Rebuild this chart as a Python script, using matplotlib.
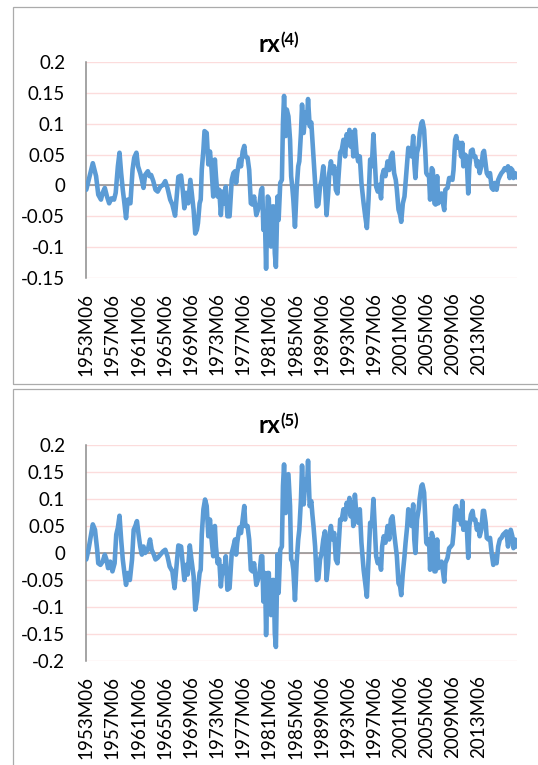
import matplotlib
matplotlib.use("Agg")
import matplotlib.pyplot as plt
from matplotlib.patches import Rectangle

plt.rcParams['font.family'] = ['Lato', 'DejaVu Sans']

# Month index 0 = 1953M06
months_start4 = [0, 12, 18, 22, 27, 30, 34, 38, 42, 46, 51, 54, 58, 61, 64, 67, 70, 73, 76, 81,
                 85, 88, 92, 95, 99, 102, 105, 108, 113, 116, 119, 123, 127, 131, 136, 141, 145, 149, 154, 158,
                 163, 166, 169, 174, 177, 180, 183, 187, 191, 193, 197, 200, 203, 205, 208, 210, 212, 215, 217, 221,
                 224, 227, 230, 233, 236, 238, 241, 244, 247, 250, 253, 256, 259, 263]
months_start5 = [0, 4, 12, 16, 20, 22, 26, 30, 34, 37, 40, 44, 48, 52, 55, 58, 61, 64, 67, 70,
                 73, 76, 80, 84, 87, 90, 93, 96, 99, 102, 105, 108, 113, 117, 120, 124, 127, 131, 136, 141,
                 145, 149, 153, 158, 162, 166, 169, 174, 177, 180, 183, 186, 190, 193, 197, 200, 203, 205, 208, 210,
                 212, 215, 218, 221, 224, 227, 230, 233, 236, 238, 241, 244, 247, 250, 253, 256, 259, 263]
months_rest = [267, 270, 273, 275, 277, 281, 284, 287, 290, 292, 296, 299, 302, 305, 308, 312, 315, 318, 321, 323,
               325, 328, 330, 333, 335, 337, 339, 342, 344, 346, 348, 351, 353, 356, 359, 361, 363, 366, 368, 371,
               374, 376, 378, 380, 383, 386, 389, 391, 394, 396, 399, 402, 405, 407, 410, 413, 415, 417, 420, 423,
               426, 429, 432, 435, 438, 441, 444, 446, 449, 452, 455, 458, 461, 463, 466, 469, 472, 475, 478, 481,
               483, 485, 488, 490, 493, 496, 499, 502, 505, 509, 512, 515, 518, 521, 524, 527,
               532, 535, 538, 541, 543, 546, 549, 553, 556, 559, 562, 565, 568, 570, 573, 576, 578, 581, 584, 586,
               589, 591, 594, 597, 600, 602, 604, 607, 610, 612, 615, 617, 620, 622, 624, 626, 629, 631, 634, 636,
               639, 641, 644, 646, 649, 652, 655, 657, 659, 663, 666, 669, 672, 674, 677, 679, 682, 685, 688, 690,
               692, 695, 698, 701, 703, 706, 709, 711, 714, 717, 719, 722, 725, 728, 730, 733, 735, 738, 741, 744,
               747, 750, 753, 756, 759, 762, 765, 768, 771, 774, 777, 779, 782, 784, 787, 790]

rx4 = [-0.007, 0.036, 0.015, -0.015, -0.023, -0.012, -0.004, -0.018, -0.029, -0.021,
       -0.023, -0.012, 0.031, 0.053, 0.020, -0.007, -0.029, -0.053, -0.023, -0.029,
       0.026, 0.045, 0.053, 0.031, 0.020, 0.009, -0.004, 0.017, 0.023, 0.015,
       0.017, 0.007, -0.007, -0.010, -0.002, 0.001, 0.007, -0.004, -0.023, -0.031,
       -0.049, -0.018, 0.014, 0.016, -0.007, -0.037, -0.012, -0.029, 0.009, -0.007,
       -0.040, -0.078, -0.072, -0.061, -0.029, -0.023, 0.026, 0.058, 0.088, 0.085,
       0.034, 0.055, 0.026, -0.018, 0.042, 0.015, -0.018, -0.007, -0.048, -0.010,
       -0.029, -0.002, -0.050, -0.050,
       0.009, 0.020, 0.023, 0.004, 0.020, 0.042, 0.031, 0.055, 0.064, 0.047,
       0.045, 0.025, -0.029, -0.031, -0.018, -0.048, -0.040, -0.029, -0.007, -0.004,
       -0.072, -0.061, -0.135, -0.018, -0.021, -0.094, -0.099, -0.034, -0.034, -0.110,
       -0.132, -0.018, -0.056, 0.004, 0.009, 0.102, 0.145, 0.080, 0.123, 0.112,
       0.074, 0.015, -0.002, -0.023, -0.067, -0.007, 0.031, 0.039, 0.085, 0.131,
       0.085, 0.118, 0.102, 0.140, 0.096, 0.102, 0.074, 0.047, 0.004, -0.034,
       -0.031, -0.002, 0.009, 0.031, 0.004, -0.048, -0.013, 0.020, 0.039, 0.020,
       0.031, -0.007, -0.013, 0.015, 0.053, 0.058, 0.074, 0.047, 0.083, 0.069,
       0.090, 0.063, 0.085, 0.047, 0.090, 0.053, 0.039, 0.047, 0.004, -0.029,
       -0.050, -0.069, -0.023, 0.042, 0.031, 0.083,
       -0.002, -0.010, 0.001, -0.021, 0.015, 0.025, 0.015, 0.039, 0.025, 0.047,
       0.053, 0.020, 0.009, -0.007, -0.039, -0.048, -0.059, -0.029, -0.018, 0.004,
       0.036, 0.061, 0.058, 0.047, 0.080, 0.036, 0.012, 0.053, 0.064, 0.085,
       0.101, 0.104, 0.090, 0.058, 0.020, 0.017, 0.015, -0.023, 0.028, 0.025,
       -0.029, -0.031, 0.015, -0.029, -0.018, -0.013, -0.031, -0.040, -0.007, -0.004,
       0.012, 0.012, 0.009, 0.025, 0.074, 0.080, 0.061, 0.069, 0.047, 0.069,
       0.031, 0.050, 0.047, -0.013, 0.031, 0.056, 0.058, 0.047, 0.047, 0.031,
       0.039, 0.020, 0.031, 0.053, 0.056, 0.034, 0.020, 0.015, 0.020, -0.004,
       -0.007, 0.004, -0.007, 0.009, 0.015, 0.020, 0.023, 0.028, 0.025, 0.031,
       0.012, 0.028, 0.025, 0.012, 0.020, 0.013]

rx5 = [-0.012, 0.006, 0.053, 0.043, 0.006, -0.019, -0.022, -0.016, -0.003, -0.012,
       -0.028, -0.016, -0.034, -0.019, 0.034, 0.047, 0.069, 0.025, -0.012, -0.037,
       -0.059, -0.037, -0.050, -0.012, 0.043, 0.050, 0.059, 0.034, 0.012, -0.003,
       0.012, 0.0, 0.006, 0.025, 0.006, -0.003, -0.012, -0.009, -0.003, 0.003,
       0.006, -0.006, -0.025, -0.034, -0.065, -0.019, 0.014, 0.012, -0.019, -0.050,
       -0.022, -0.040, 0.014, -0.012, -0.043, -0.105, -0.087, -0.065, -0.037, -0.031,
       0.034, 0.081, 0.099, 0.087, 0.031, 0.062, 0.025, -0.006, 0.050, 0.012,
       -0.019, -0.012, -0.062, -0.025, -0.037, -0.006, -0.068, -0.065,
       0.0, 0.012, 0.025, -0.003, 0.019, 0.047, 0.037, 0.062, 0.087, 0.050,
       0.050, 0.025, -0.031, -0.034, -0.019, -0.059, -0.050, -0.037, -0.006, -0.006,
       -0.090, -0.037, -0.152, -0.037, -0.037, -0.112, -0.115, -0.050, -0.050, -0.149,
       -0.174, -0.003, -0.074, 0.006, 0.012, 0.124, 0.164, 0.074, 0.143, 0.146,
       0.087, -0.012, -0.016, -0.031, -0.087, -0.019, 0.025, 0.043, 0.099, 0.162,
       0.090, 0.136, 0.118, 0.171, 0.087, 0.096, 0.071, 0.050, 0.012, -0.050,
       -0.047, -0.012, 0.0, 0.025, 0.040, -0.050, -0.019, 0.031, 0.050, 0.025,
       0.037, -0.012, -0.019, 0.012, 0.062, 0.062, 0.081, 0.062, 0.093, 0.081,
       0.102, 0.068, 0.093, 0.050, 0.108, 0.068, 0.056, 0.081, 0.019, -0.031,
       -0.056, -0.081, -0.012, 0.056, 0.050, 0.100,
       -0.006, -0.019, -0.012, -0.031, 0.012, 0.031, 0.019, 0.050, 0.025, 0.062,
       0.068, 0.037, 0.012, -0.006, -0.056, -0.062, -0.078, -0.037, -0.006, 0.019,
       0.050, 0.081, 0.074, 0.050, 0.090, 0.025, 0.0, 0.062, 0.081, 0.102,
       0.124, 0.127, 0.112, 0.068, 0.019, 0.016, 0.025, -0.031, 0.037, 0.031,
       -0.034, -0.034, 0.025, -0.028, -0.019, -0.016, -0.037, -0.053, -0.019, -0.009,
       0.009, 0.012, 0.016, 0.037, 0.084, 0.087, 0.062, 0.078, 0.053, 0.096,
       0.043, 0.056, 0.056, -0.009, 0.050, 0.071, 0.078, 0.062, 0.062, 0.043,
       0.053, 0.031, 0.043, 0.078, 0.078, 0.056, 0.028, 0.025, 0.028, 0.0,
       -0.022, -0.006, -0.019, 0.012, 0.025, 0.028, 0.034, 0.037, 0.040, 0.012,
       0.037, 0.043, 0.031, 0.009, 0.025, 0.012]

x_labels = ['1953M06', '1957M06', '1961M06', '1965M06', '1969M06', '1973M06', '1977M06', '1981M06',
            '1985M06', '1989M06', '1993M06', '1997M06', '2001M06', '2005M06', '2009M06', '2013M06']
y_ticks_4 = [-0.15, -0.1, -0.05, 0, 0.05, 0.1, 0.15, 0.2]
y_ticks_5 = [-0.2, -0.15, -0.1, -0.05, 0, 0.05, 0.1, 0.15, 0.2]
n_months = 791

W, H = 538, 765
LINE = '#5B9BD5'
GRID = '#FCDCDC'
AXIS = '#8C8C8C'
BORDER = '#ABABAB'


def fx(px):
    return px / W


def fy(py):
    return 1 - py / H


fig = plt.figure(figsize=(W / 100, H / 100), dpi=100)


def draw_panel(box_top, box_bottom, plot_top, plot_bottom, title_base, sup, months, values, yticks):
    fig.add_artist(Rectangle((fx(13), fy(box_bottom)), fx(560) - fx(13), fy(box_top) - fy(box_bottom),
                             transform=fig.transFigure, fill=False, ec=BORDER, lw=0.9))
    ax = fig.add_axes([fx(86), fy(plot_bottom), fx(517) - fx(86), fy(plot_top) - fy(plot_bottom)])
    ax.plot(months, values, color=LINE, lw=3.3, solid_joinstyle='round', solid_capstyle='round', zorder=3)
    ax.axhline(0, color=AXIS, lw=1.1, zorder=2)
    ax.set_xlim(-0.5, n_months - 0.5)
    ax.set_ylim(yticks[0], yticks[-1])
    ax.set_yticks(yticks)
    ax.set_yticklabels([f"{v:g}" for v in yticks])
    ax.yaxis.grid(True, color=GRID, lw=1.0)
    ax.set_axisbelow(True)
    ticks = [(int(lbl[:4]) - 1953) * 12 for lbl in x_labels]
    ax.set_xticks(ticks)
    ax.set_xticklabels(x_labels, rotation=90, va='top', ha='center')
    ax.tick_params(axis='y', length=0, pad=15, labelsize=13.5, colors='#000000')
    ax.tick_params(axis='x', length=0, pad=10.5, labelsize=13.5)
    for s in ['top', 'right', 'bottom']:
        ax.spines[s].set_visible(False)
    ax.spines['left'].set_color(AXIS)
    ax.spines['left'].set_linewidth(1.1)
    fig.text(fx(280), fy(title_base), 'rx', ha='right', va='baseline', fontsize=17.5, fontweight='bold')
    fig.text(fx(280.5), fy(title_base - 7), sup, ha='left', va='baseline', fontsize=12, fontweight='bold')
    return ax


draw_panel(7, 384, 62, 278, 52, '(4)', months_start4 + months_rest, rx4, y_ticks_4)
draw_panel(389, 790, 445, 661, 433, '(5)', months_start5 + months_rest, rx5, y_ticks_5)

fig.savefig('out.png', dpi=100)
